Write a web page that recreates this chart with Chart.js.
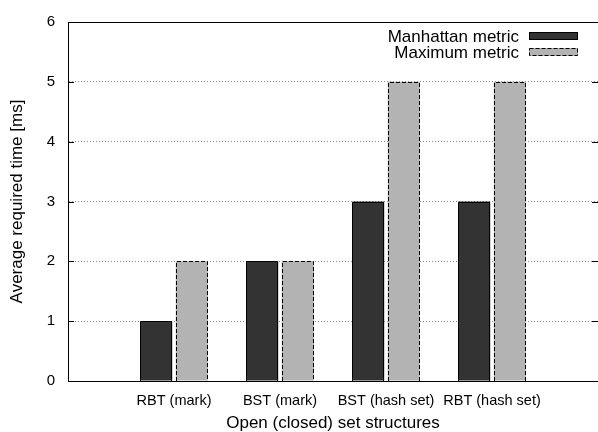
<!DOCTYPE html>
<html>
<head>
<meta charset="utf-8">
<script src="https://cdn.jsdelivr.net/npm/chart.js@4"></script>
<style>body{margin:0;background:#fff}</style>
</head>
<body>
<canvas id="myChart" width="598" height="432"></canvas>
<script>
var categories = ["RBT (mark)", "BST (mark)", "BST (hash set)", "RBT (hash set)"];
var manhattan = [1, 2, 3, 3];
var maximum = [2, 2, 5, 5];
var yTicks = [0, 1, 2, 3, 4, 5, 6];
var seriesNames = ["Manhattan metric", "Maximum metric"];

var font = "'Liberation Sans', Arial, Helvetica, sans-serif";

function points(values) {
  return values.map(function (v, i) { return { x: i, y: v }; });
}

// gnuplot bits: crisp outlines (dashed on 2nd series), frame, mirrored ticks, key
var gnuplotLook = {
  id: 'gnuplotLook',
  afterDatasetsDraw: function (chart) {
    var c = chart.ctx, a = chart.chartArea;
    c.save();
    c.strokeStyle = '#000';
    c.lineWidth = 1;

    [0, 1].forEach(function (d) {
      c.setLineDash(d == 1 ? [4, 2] : []);
      chart.getDatasetMeta(d).data.forEach(function (bar) {
        var l = Math.round(bar.x - bar.width / 2) + 0.5;
        var r = Math.round(bar.x + bar.width / 2) - 0.5;
        var t = Math.round(bar.y) + 0.5;
        var b = Math.round(bar.base);
        c.beginPath();
        c.moveTo(l, b); c.lineTo(l, t); c.lineTo(r, t); c.lineTo(r, b);
        c.stroke();
      });
    });
    c.setLineDash([]);

    c.strokeRect(a.left + 0.5, a.top + 0.5, a.right - a.left, a.bottom - a.top);

    var y = chart.scales.y;
    yTicks.forEach(function (t) {
      var py = Math.round(y.getPixelForValue(t)) + 0.5;
      c.beginPath();
      c.moveTo(a.left, py); c.lineTo(a.left + 6, py);
      c.moveTo(a.right - 6, py); c.lineTo(a.right, py);
      c.stroke();
    });

    // key, top right inside the plot
    c.font = '17px ' + font;
    c.textAlign = 'right';
    c.textBaseline = 'middle';
    var rows = [a.top + 14, a.top + 30];
    chart.data.datasets.forEach(function (ds, i) {
      var ry = rows[i];
      c.fillStyle = '#000';
      c.fillText(ds.label, a.right - 79, ry + 1);
      c.fillStyle = ds.backgroundColor;
      c.fillRect(a.right - 69, ry - 4, 49, 8);
      if (i == 1) c.setLineDash([4, 2]);
      c.strokeRect(a.right - 68.5, ry - 3.5, 48, 7);
      c.setLineDash([]);
    });
    c.restore();
  }
};

const ctx = document.getElementById("myChart");

new Chart(ctx, {
  type: "bar",
  data: {
    datasets: [
      {
        label: seriesNames[0],
        data: points(manhattan),
        backgroundColor: '#333333',
        borderWidth: 0,
      },
      {
        label: seriesNames[1],
        data: points(maximum),
        backgroundColor: '#b3b3b3',
        borderWidth: 0,
      },
    ],
  },
  options: {
    responsive: false,
    animation: false,
    categoryPercentage: 0.67,
    barPercentage: 0.9,
    layout: { padding: { top: 19, right: 0, bottom: 0, left: 0 } },
    plugins: {
      legend: { display: false },
      tooltip: { enabled: false },
    },
    scales: {
      x: {
        type: 'linear',
        min: -1,
        max: 4,
        offset: false,
        afterBuildTicks: function (s) {
          s.ticks = categories.map(function (c, i) { return { value: i }; });
        },
        afterFit: function (s) { s.height = 51; },
        grid: { display: false, drawTicks: false },
        border: { color: '#000' },
        ticks: {
          autoSkip: false,
          maxRotation: 0,
          padding: 11,
          color: '#000',
          font: { size: 14.5, family: font },
          callback: function (v) { return categories[v]; },
        },
        title: {
          display: true,
          text: 'Open (closed) set structures',
          color: '#000',
          font: { size: 17, family: font, lineHeight: 1 },
          padding: 0,
        },
      },
      y: {
        min: 0,
        max: 6,
        afterBuildTicks: function (s) {
          s.ticks = yTicks.map(function (v) { return { value: v }; });
        },
        afterFit: function (s) { s.width = 68; },
        grid: { color: '#8a8a8a', drawTicks: false },
        border: { color: '#000', dash: [1, 2] },
        ticks: {
          padding: 13,
          color: '#000',
          font: { size: 15, family: font },
        },
        title: {
          display: true,
          text: 'Average required time [ms]',
          color: '#000',
          font: { size: 17, family: font, lineHeight: 1 },
          padding: { top: 8.5, bottom: 0 },
        },
      },
    },
  },
  plugins: [gnuplotLook],
});
</script>
</body>
</html>
